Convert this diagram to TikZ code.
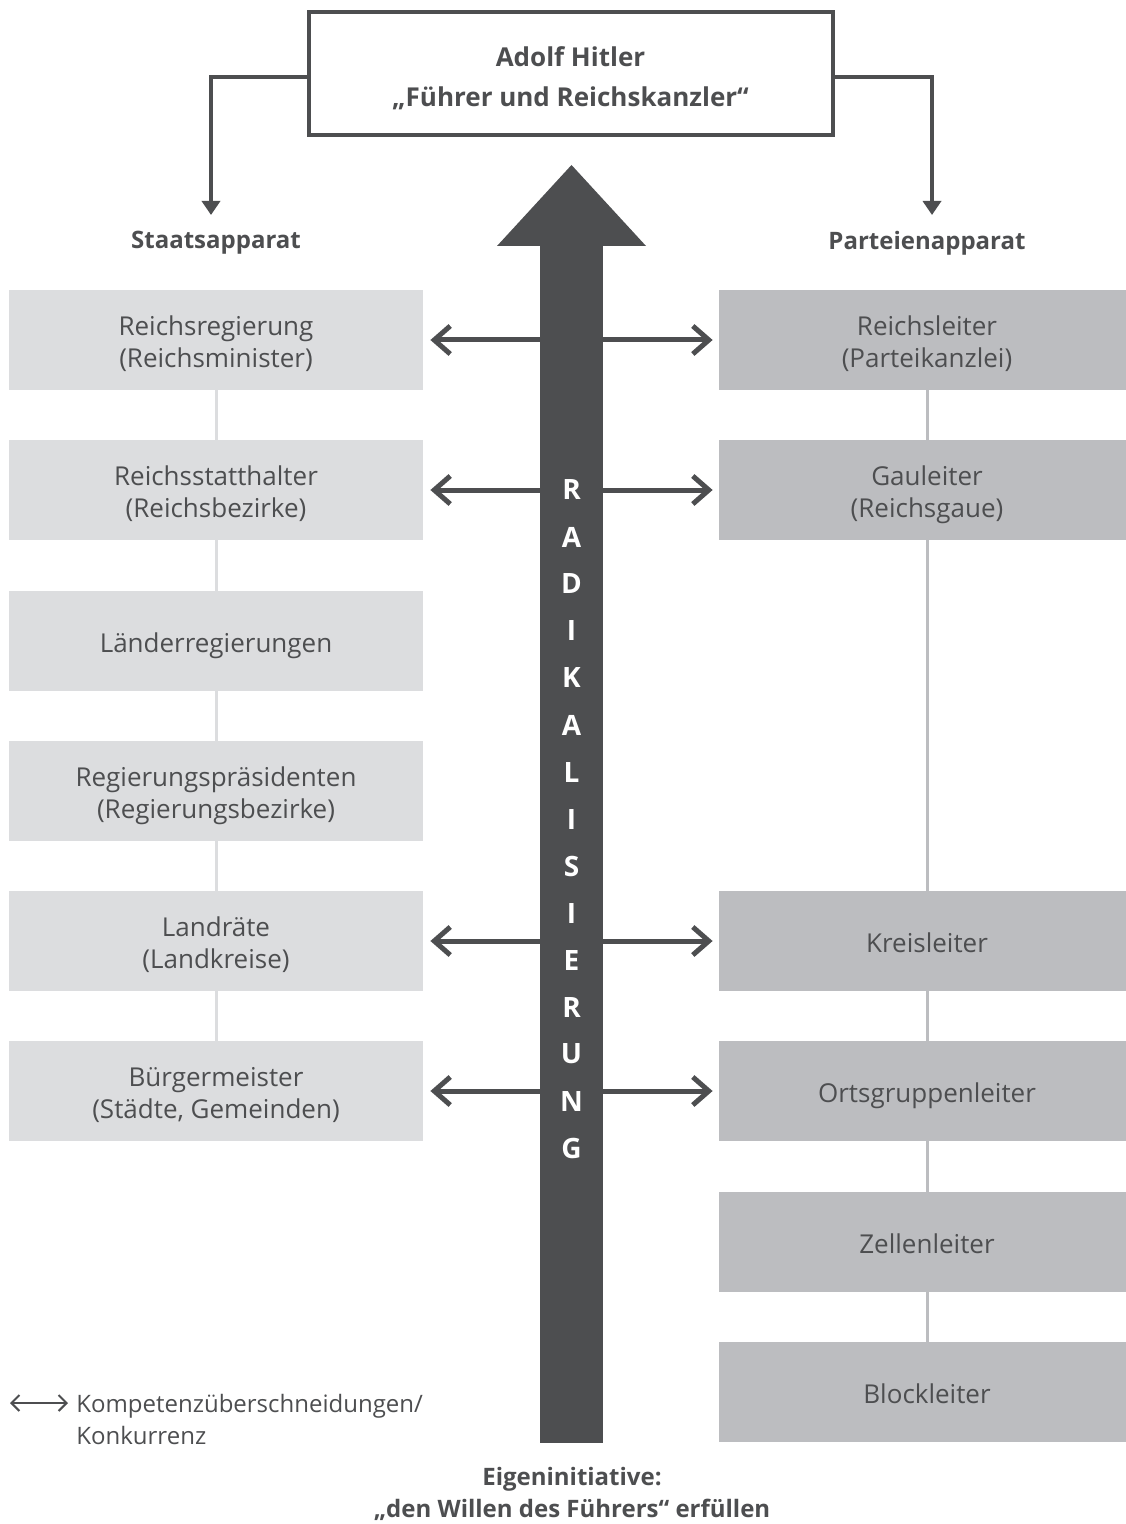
\documentclass[tikz,border=0pt]{standalone}
\usepackage{fontspec}
\setmainfont{Open Sans}
\usetikzlibrary{arrows.meta}
\definecolor{dunkel}{HTML}{4D4E50}
\definecolor{hellgrau}{HTML}{DCDDDF}
\definecolor{mittelgrau}{HTML}{BCBDC0}

\begin{document}
\begin{tikzpicture}[x=0.5pt, y=-0.5pt,
            staat/.style={rectangle, fill=hellgrau, minimum width=207pt, minimum height=50pt, inner sep=0pt, align=center, text=dunkel, font=\fontsize{13}{16}\selectfont},
            partei/.style={rectangle, fill=mittelgrau, minimum width=208pt, minimum height=50pt, inner sep=0pt, align=center, text=dunkel, font=\fontsize{13}{16}\selectfont},
            eins/.style={text height=12pt, text depth=1pt},
            zwei/.style={text height=28.3pt, text depth=1pt},
            kopf/.style={text=dunkel, align=center, font=\fontsize{12}{16}\selectfont\bfseries},
            hellstrich/.style={draw=hellgrau, line width=1.5pt},
            mittelstrich/.style={draw=mittelgrau, line width=1.5pt},
            stab/.style={draw=dunkel, line width=2pt, -{Triangle[length=7pt,width=9pt]}},
            querpfeil/.style={draw=dunkel, line width=2.5pt, -{Straight Barb[length=8pt,width=14pt]}},
            buchstabe/.style={text=white, font=\fontsize{14}{14}\selectfont\bfseries},]
        \useasboundingbox (0,0) rectangle (1125,1524);
        % Fuehrer
        \node[rectangle, draw=dunkel, line width=2pt, minimum width=262pt, minimum height=61.5pt, text height=33.8pt, text depth=1pt, align=center, text=dunkel, font=\fontsize{13}{20}\selectfont\bfseries] (hitler) at (570.5,73.5) {Adolf Hitler\\„Führer und Reichskanzler“};
        \node[kopf] (staat) at (216,243) {Staatsapparat};
        \node[kopf] (partei) at (927,243) {Parteienapparat};
        \coordinate (sp) at (211,215);
        \coordinate (pp) at (932,215);
        \draw[stab] ([yshift=-1.75pt]hitler.west) -| (sp);
        \draw[stab] ([yshift=-1.75pt]hitler.east) -| (pp);
        % Radikalisierung
        \node[rectangle, fill=dunkel, minimum width=31.5pt, minimum height=599pt, inner sep=0pt] (pfeil) at (571.5,844) {};
        \fill[dunkel] (497,246) -- (571.5,165) -- (646,246) -- cycle;
        \foreach \b [count=\i] in {R,A,D,I,K,A,L,I,S,I,E,R,U,N,G}
            \node[buchstabe] (b\i) at (571.5,{490+47*(\i-1)}) {\b};
        % Staatsapparat
        \node[staat, zwei] (s1) at (216,340) {Reichsregierung\\(Reichsminister)};
        \node[staat, zwei] (s2) at (216,490) {Reichsstatthalter\\(Reichsbezirke)};
        \node[staat, eins] (s3) at (216,641) {Länderregierungen};
        \node[staat, zwei] (s4) at (216,791) {Regierungspräsidenten\\(Regierungsbezirke)};
        \node[staat, zwei] (s5) at (216,941) {Landräte\\(Landkreise)};
        \node[staat, zwei] (s6) at (216,1091) {Bürgermeister\\(Städte, Gemeinden)};
        \foreach \a/\z in {s1/s2,s2/s3,s3/s4,s4/s5,s5/s6}
            \draw[hellstrich] (\a.south) -- (\z.north);
        % Parteienapparat
        \node[partei, zwei] (p1) at (927,340) {Reichsleiter\\(Parteikanzlei)};
        \node[partei, zwei] (p2) at (927,490) {Gauleiter\\(Reichsgaue)};
        \node[partei, eins] (p5) at (927,941) {Kreisleiter};
        \node[partei, eins] (p6) at (927,1091) {Ortsgruppenleiter};
        \node[partei, eins] (p7) at (927,1242) {Zellenleiter};
        \node[partei, eins] (p8) at (927,1392) {Blockleiter};
        \foreach \a/\z in {p1/p2,p2/p5,p5/p6,p6/p7,p7/p8}
            \draw[mittelstrich] (\a.south) -- (\z.north);
        % Konkurrenz
        \foreach \s/\p in {s1/p1,s2/p2,s5/p5,s6/p6} {
            \draw[querpfeil, shorten >=3.5pt] (pfeil.west |- \s.east) -- (\s.east);
            \draw[querpfeil, shorten >=3pt] (pfeil.east |- \p.west) -- (\p.west);
        }
        % Legende
        \coordinate (la) at (10,1403);
        \coordinate (lb) at (68,1403);
        \draw[draw=dunkel, line width=1pt, {Straight Barb[length=4pt,width=8pt]}-{Straight Barb[length=4pt,width=8pt]}] (la) -- (lb);
        \node[anchor=west, align=left, text=dunkel, inner sep=0pt, font=\fontsize{12}{16}\selectfont] (legende) at (76,1419) {Kompetenzüberschneidungen/\\Konkurrenz};
        \node[kopf] (eigen) at (572,1494) {Eigeninitiative:\\„den Willen des Führers“ erfüllen};
    \end{tikzpicture}
\end{document}
